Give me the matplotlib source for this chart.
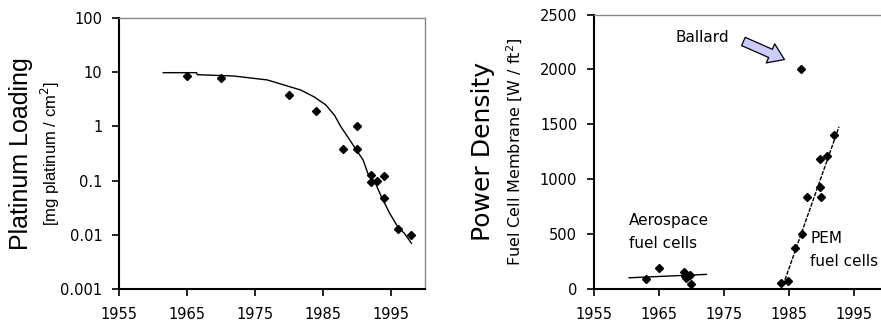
import numpy as np
import matplotlib.pyplot as plt
from matplotlib.ticker import FixedLocator, FixedFormatter

plt.rcParams['font.family'] = ['DejaVu Sans']

# Platinum loading (left panel)
pt_years = [1965, 1970, 1980, 1984, 1988, 1990, 1990, 1992, 1992, 1993, 1994, 1994, 1996, 1998]
pt_load = [8.5, 7.7, 3.8, 1.9, 0.39, 1.0, 0.39, 0.127, 0.096, 0.097, 0.12, 0.048, 0.013, 0.0098]
fit_years = [1961.5, 1966.4, 1966.5, 1971.9, 1976.8, 1981.7, 1983.7, 1985.4, 1986.7, 1987.6,
             1988.6, 1989.6, 1990.9, 1991.6, 1992.6, 1993.6, 1994.8, 1996.0, 1997.0, 1998.0]
fit_load = [9.8, 9.8, 9.0, 8.5, 7.2, 4.7, 3.5, 2.5, 1.6, 1.0,
            0.65, 0.42, 0.24, 0.135, 0.096, 0.05, 0.025, 0.014, 0.0105, 0.007]

# Power density (right panel)
aero_years = [1963, 1965, 1968.8, 1969, 1969.2, 1969.8, 1970]
aero_pd = [90, 190, 160, 121, 100, 130, 52]
aero_fit_years = [1960.4, 1972.3]
aero_fit_pd = [105, 136]
pem_years = [1983.8, 1984.8, 1985.9, 1987.05, 1987.7, 1989.8, 1990.8, 1989.8, 1990.0, 1992.0]
pem_pd = [60, 76, 373, 503, 842, 1190, 1212, 933, 842, 1403]
pem_fit_years = [1984.1, 1992.7]
pem_fit_pd = [39, 1479]
ballard_year = [1986.9]
ballard_pd = [2000]

year_ticks = [1955, 1965, 1975, 1985, 1995]

fig = plt.figure(figsize=(8.81, 3.26), dpi=100)
ax1 = fig.add_axes([0.1351, 0.1135, 0.3473, 0.8313])
ax2 = fig.add_axes([0.6742, 0.1125, 0.332, 0.843])

for ax in (ax1, ax2):
    ax.spines['left'].set_color('black')
    ax.spines['bottom'].set_color('black')
    ax.spines['left'].set_linewidth(1.5)
    ax.spines['bottom'].set_linewidth(1.5)
    ax.spines['top'].set_color('#888888')
    ax.spines['right'].set_color('#888888')
    ax.spines['top'].set_linewidth(1.0)
    ax.spines['right'].set_linewidth(1.0)
    ax.set_xlim(1955, 2000)
    ax.xaxis.set_major_locator(FixedLocator(year_ticks))
    ax.tick_params(axis='both', direction='out', length=5, width=1.2, labelsize=10.5, pad=7)
    ax.tick_params(axis='x', pad=8)

# left
ax1.set_yscale('log')
ax1.set_ylim(0.001, 100)
ax1.yaxis.set_major_locator(FixedLocator([0.001, 0.01, 0.1, 1, 10, 100]))
ax1.yaxis.set_major_formatter(FixedFormatter(['0.001', '0.01', '0.1', '1', '10', '100']))
ax1.yaxis.set_minor_locator(FixedLocator([]))
ax1.plot(fit_years, fit_load, color='black', lw=1.0)
ax1.plot(pt_years, pt_load, 'D', color='black', ms=4)
ax1.text(-0.32, 0.5, 'Platinum Loading', rotation=90, fontsize=18, family='Liberation Sans',
         transform=ax1.transAxes, ha='center', va='center')
ax1.text(-0.225, 0.5, '[mg platinum / cm$^2$]', rotation=90, fontsize=12, family='Liberation Sans',
         transform=ax1.transAxes, ha='center', va='center')

# right
ax2.set_ylim(0, 2500)
ax2.yaxis.set_major_locator(FixedLocator([0, 500, 1000, 1500, 2000, 2500]))
ax2.plot(aero_fit_years, aero_fit_pd, color='black', lw=1.0)
ax2.plot(pem_fit_years, pem_fit_pd, color='black', lw=1.0, ls=(0, (3, 1)))
ax2.plot(aero_years, aero_pd, 'D', color='black', ms=4)
ax2.plot(pem_years, pem_pd, 'D', color='black', ms=4)
ax2.plot(ballard_year, ballard_pd, 'D', color='black', ms=4)
ax2.text(-0.38, 0.5, 'Power Density', rotation=90, fontsize=18,
         transform=ax2.transAxes, ha='center', va='center')
ax2.text(-0.27, 0.5, 'Fuel Cell Membrane [W / ft$^2$]', rotation=90, fontsize=11.5,
         transform=ax2.transAxes, ha='center', va='center')
ax2.text(1971.6, 2290, 'Ballard', fontsize=11, ha='center', va='center')
ax2.annotate('', xy=(1984.7, 2080), xytext=(1977.6, 2265),
             arrowprops=dict(arrowstyle='simple,head_width=1.5,head_length=1.1,tail_width=0.65',
                             fc='#ccccff', ec='black', lw=0.9))
ax2.text(1960.4, 630, 'Aerospace', fontsize=11, ha='left', va='center')
ax2.text(1960.4, 418, 'fuel cells', fontsize=11, ha='left', va='center')
ax2.text(1988.3, 464, 'PEM', fontsize=11, ha='left', va='center')
ax2.text(1988.3, 251, 'fuel cells', fontsize=11, ha='left', va='center')

fig.savefig('out.png', dpi=100)
